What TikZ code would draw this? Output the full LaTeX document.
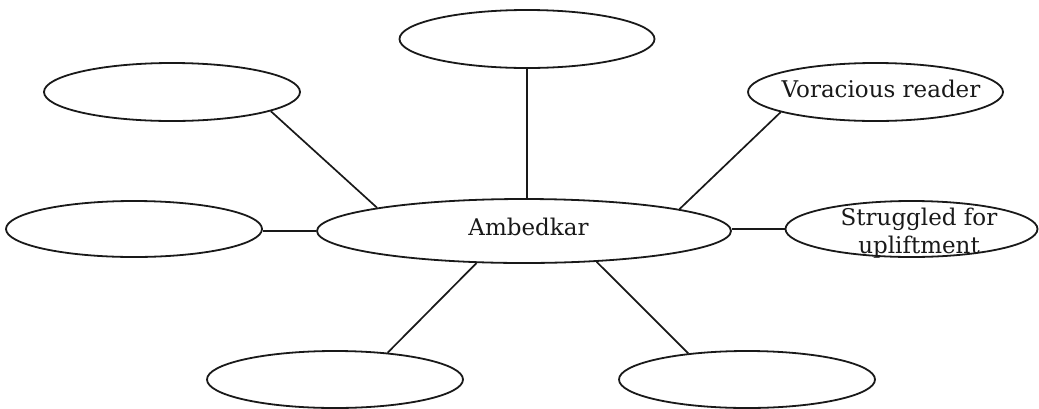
\documentclass[tikz,border=0pt]{standalone}
\usepackage{fontspec}
\setmainfont{DejaVu Serif}
\usetikzlibrary{shapes.geometric}
\begin{document}
\begin{tikzpicture}[x=1pt,y=-1pt,
  oval/.style={draw=black!90, ellipse, line width=1.8pt, inner sep=0pt, minimum width=#1},
  oval/.default=256pt,
  link/.style={draw=black!90, line width=1.7pt},
  txt/.style={inner sep=0pt, anchor=base, text=black!90, font=\fontsize{23}{28}\selectfont}]
\useasboundingbox (0,0) rectangle (1039,408);
% ellipses
\node[oval, minimum height=58pt] (TL) at (172,92) {};
\node[oval=255pt, minimum height=58pt] (T) at (527,39) {};
\node[oval=255pt, minimum height=58pt] (V) at (875.5,92) {};
\node[oval, minimum height=56pt] (L) at (134,229) {};
\node[oval=414pt, minimum height=64pt] (C) at (524,231) {};
\node[oval=252pt, minimum height=56pt] (S) at (911.5,229) {};
\node[oval, minimum height=57pt] (BL) at (335,379.5) {};
\node[oval, minimum height=57pt] (BR) at (747,379.5) {};
% texts
\node[txt] (tV) at (881,97) {Voracious reader};
\node[txt] (tC) at (528.5,235) {Ambedkar};
\node[txt] (tS1) at (919,225) {Struggled for};
\node[txt] (tS2) at (919,253) {upliftment};
% connectors
\draw[link] (TL.-11.7) -- (C.171.6);
\draw[link] (T.south) -- (T.south |- C.north);
\draw[link] (V.-168.5) -- (C.8.5);
\draw[link] (C.west) -- (C.west -| L.east);
\draw[link] (S.west) -- (S.west -| C.east);
\draw[link] (BL.27.9) -- (C.-146.3);
\draw[link] (BR.156.5) -- (C.-23.7);
\end{tikzpicture}
\end{document}
